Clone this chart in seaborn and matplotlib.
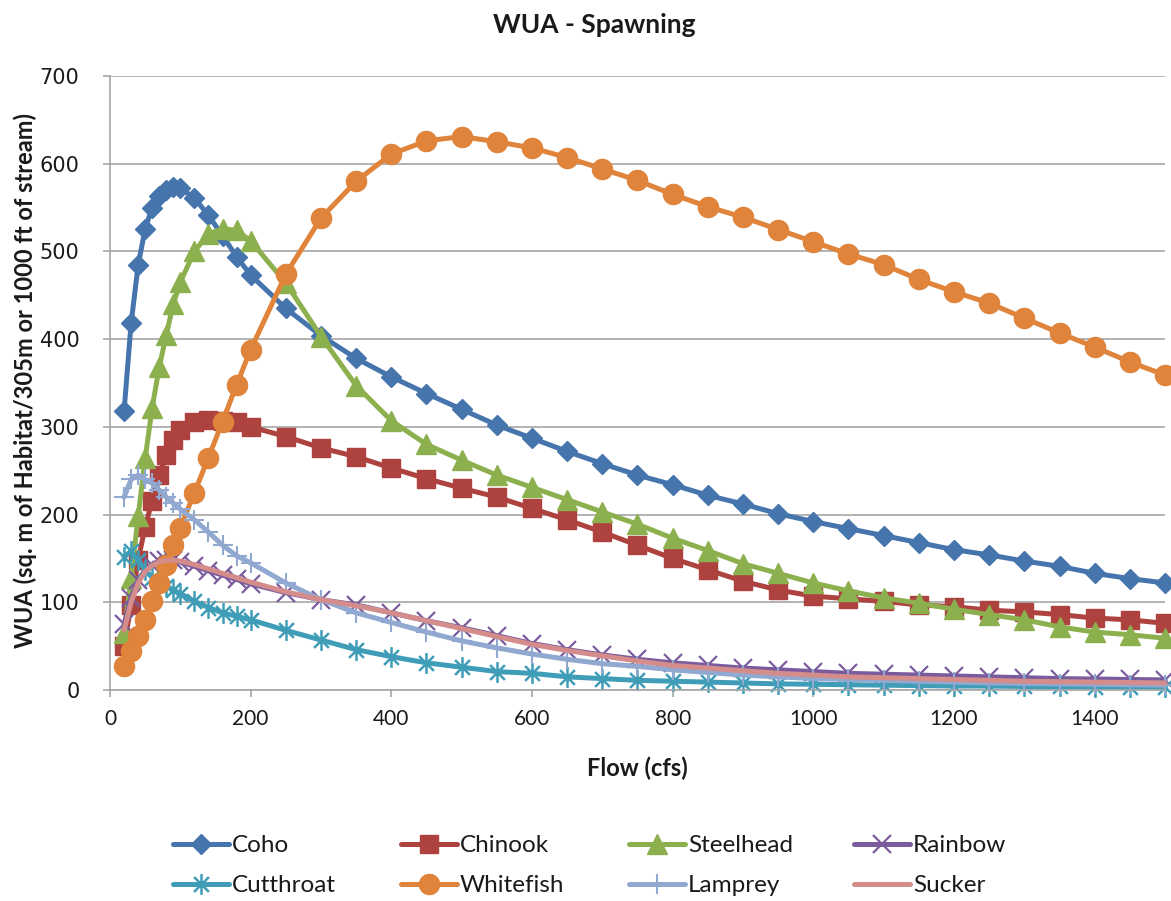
import matplotlib
matplotlib.use("Agg")
import matplotlib.pyplot as plt
from matplotlib.path import Path
import numpy as np
import pandas as pd
import seaborn as sns

# Flow steps (cfs) shared by every species curve
flows = [20, 30, 40, 50, 60, 70, 80, 90, 100, 120, 140, 160, 180, 200,
         250, 300, 350, 400, 450, 500, 550, 600, 650, 700, 750, 800, 850,
         900, 950, 1000, 1050, 1100, 1150, 1200, 1250, 1300, 1350, 1400,
         1450, 1500]

# Weighted usable area for spawning, per species
coho = [318, 418, 484, 526, 550, 563, 570, 574, 572, 561, 541, 518, 494, 473,
        435, 404, 378, 357, 338, 320, 302, 287, 272, 258, 245, 234, 222, 212,
        201, 192, 184, 176, 168, 160, 154, 147, 141, 133, 127, 122]
chinook = [50, 97, 148, 186, 216, 245, 268, 285, 296, 305, 308, 307, 305, 300,
           289, 276, 266, 253, 241, 230, 220, 207, 194, 180, 165, 150, 137, 124,
           114, 107, 104, 101, 97, 95, 91, 89, 86, 82, 80, 76]
steelhead = [65, 128, 198, 264, 322, 368, 405, 440, 465, 500, 520, 526, 524, 512,
             464, 403, 347, 307, 280, 262, 245, 231, 217, 203, 189, 173, 159, 144,
             133, 122, 113, 105, 99, 92, 86, 80, 72, 66, 63, 59]
rainbow = [75, 105, 125, 137, 143, 147, 148, 148, 146, 141, 136, 131, 126, 121,
           111, 103, 97, 88, 79, 71, 62, 53, 46, 40, 35, 31, 28, 25,
           23, 21, 19, 18, 17, 16, 15, 14, 13, 12.5, 12, 11.5]
cutthroat = [152, 158, 148, 137, 128, 122, 118, 114, 110, 101, 94, 88, 84, 80,
             68, 57, 46, 38, 31, 26, 21, 19, 15, 13, 11, 10, 9, 8,
             7, 6.5, 6, 5.5, 5, 4.5, 4.5, 4, 4, 3.5, 3.5, 3]
whitefish = [27, 44, 61, 80, 101, 122, 143, 165, 185, 225, 265, 306, 348, 388,
             474, 538, 580, 611, 626, 631, 625, 618, 607, 594, 581, 565, 551, 539,
             525, 511, 497, 485, 468, 454, 441, 424, 407, 391, 374, 359]
lamprey = [220, 240, 245, 240, 236, 228, 220, 213, 206, 194, 180, 165, 153, 145,
           122, 103, 88, 77, 66, 56, 48, 41, 35, 30, 27, 23, 20, 17,
           15, 13, 12, 11, 10, 9, 8, 7.5, 7, 6.5, 6, 5.5]
sucker = [68, 100, 122, 135, 142, 146, 148, 148, 147, 143, 138, 133, 128, 123,
          112, 103, 96, 88, 79, 70, 61, 52, 45, 39, 33, 28, 25, 22,
          19, 17, 15, 14, 13, 12, 11, 10, 9.5, 9, 8.5, 8]

species = ["Coho", "Chinook", "Steelhead", "Rainbow",
           "Cutthroat", "Whitefish", "Lamprey", "Sucker"]
values = [coho, chinook, steelhead, rainbow, cutthroat, whitefish, lamprey, sucker]

x_ticks = [0, 200, 400, 600, 800, 1000, 1200, 1400]
y_ticks = [0, 100, 200, 300, 400, 500, 600, 700]

df = pd.concat(
    [pd.DataFrame({"Flow": flows, "WUA": v, "Species": s}) for s, v in zip(species, values)],
    ignore_index=True,
)

# asterisk marker: vertical bar plus an X
asterisk = Path([(0, -1), (0, 1), (-0.71, -0.71), (0.71, 0.71), (-0.71, 0.71), (0.71, -0.71)],
                [Path.MOVETO, Path.LINETO] * 3)

styles = {
    "Coho":      dict(color="#4674AD", marker="D", ms=10.5, mew=1.0, filled=True),
    "Chinook":   dict(color="#AD423F", marker="s", ms=13.0, mew=1.0, filled=True),
    "Steelhead": dict(color="#8DB04F", marker="^", ms=14.5, mew=1.0, filled=True),
    "Rainbow":   dict(color="#7A5C9E", marker="x", ms=12.5, mew=1.6, filled=False),
    "Cutthroat": dict(color="#3F9DB7", marker=asterisk, ms=15.0, mew=1.8, filled=False),
    "Whitefish": dict(color="#DF843A", marker="o", ms=14.5, mew=1.0, filled=True),
    "Lamprey":   dict(color="#91A8D0", marker="+", ms=14.0, mew=1.5, filled=False),
    "Sucker":    dict(color="#D48D8B", marker=None, ms=0, mew=0, filled=False),
}

sns.set_theme(style="white")
plt.rcParams["font.family"] = ["Lato", "DejaVu Sans"]
text_c = "#1a1a1a"

fig = plt.figure(figsize=(11.71, 9.01), dpi=100)
ax = fig.add_axes([110 / 1171, 1 - 690 / 901, 1055 / 1171, 614 / 901])

handles = {}
for name in species:
    st = styles[name]
    sub = df[df["Species"] == name]
    kw = dict(linewidth=3.6, clip_on=False)
    if st["marker"] is not None:
        kw.update(marker=st["marker"], markersize=st["ms"], markeredgewidth=st["mew"],
                  markeredgecolor=st["color"],
                  markerfacecolor=st["color"] if st["filled"] else "none")
    sns.lineplot(data=sub, x="Flow", y="WUA", ax=ax, color=st["color"], legend=False,
                 estimator=None, sort=False, errorbar=None, **kw)
    handles[name] = ax.lines[-1]

ax.set_xlim(0, 1500)
ax.set_ylim(0, 700)
ax.set_xticks(x_ticks)
ax.set_yticks(y_ticks)
ax.set_xticklabels([str(t) for t in x_ticks], fontsize=15)
ax.set_yticklabels([str(t) for t in y_ticks], fontsize=15, family="DejaVu Sans")
ax.set_xlabel("")
ax.set_ylabel("")

grid_c = "#A6A6A6"
ax.yaxis.grid(True, color=grid_c, linewidth=1.2)
ax.xaxis.grid(False)
ax.set_axisbelow(True)
for side in ("top", "right"):
    ax.spines[side].set_visible(False)
for side in ("left", "bottom"):
    ax.spines[side].set_color(grid_c)
    ax.spines[side].set_linewidth(1.2)
ax.tick_params(axis="both", which="major", direction="out", length=5, width=1.2,
               color=grid_c, labelcolor=text_c)
ax.tick_params(axis="y", pad=17, left=True)
ax.tick_params(axis="x", pad=9, bottom=True)

fig.text(594 / 1171, 1 - 25 / 901, "WUA - Spawning", ha="center", va="center",
         fontsize=19, fontweight="bold", color=text_c)
fig.text(637 / 1171, 1 - 768 / 901, "Flow (cfs)", ha="center", va="center",
         fontsize=17, fontweight="bold", color=text_c)
fig.text(25 / 1171, 1 - 380 / 901, "WUA (sq. m of Habitat/305m or 1000 ft of stream)",
         ha="center", va="center", rotation=90, fontsize=17, fontweight="bold",
         color=text_c)

# legend: four columns of two rows
col_x = [173, 401, 629, 854]
for i, x0 in enumerate(col_x):
    names = [species[i], species[i + 4]]
    leg = fig.legend([handles[n] for n in names], names, loc="upper left",
                     bbox_to_anchor=(x0 / 1171, 1 - 835 / 901),
                     frameon=False, borderpad=0, borderaxespad=0,
                     handlelength=2.3, handletextpad=0.12, labelspacing=0.8,
                     prop={"size": 17.5}, numpoints=1)
    for t in leg.get_texts():
        t.set_color(text_c)

fig.savefig("out.png", dpi=100, facecolor="white")
